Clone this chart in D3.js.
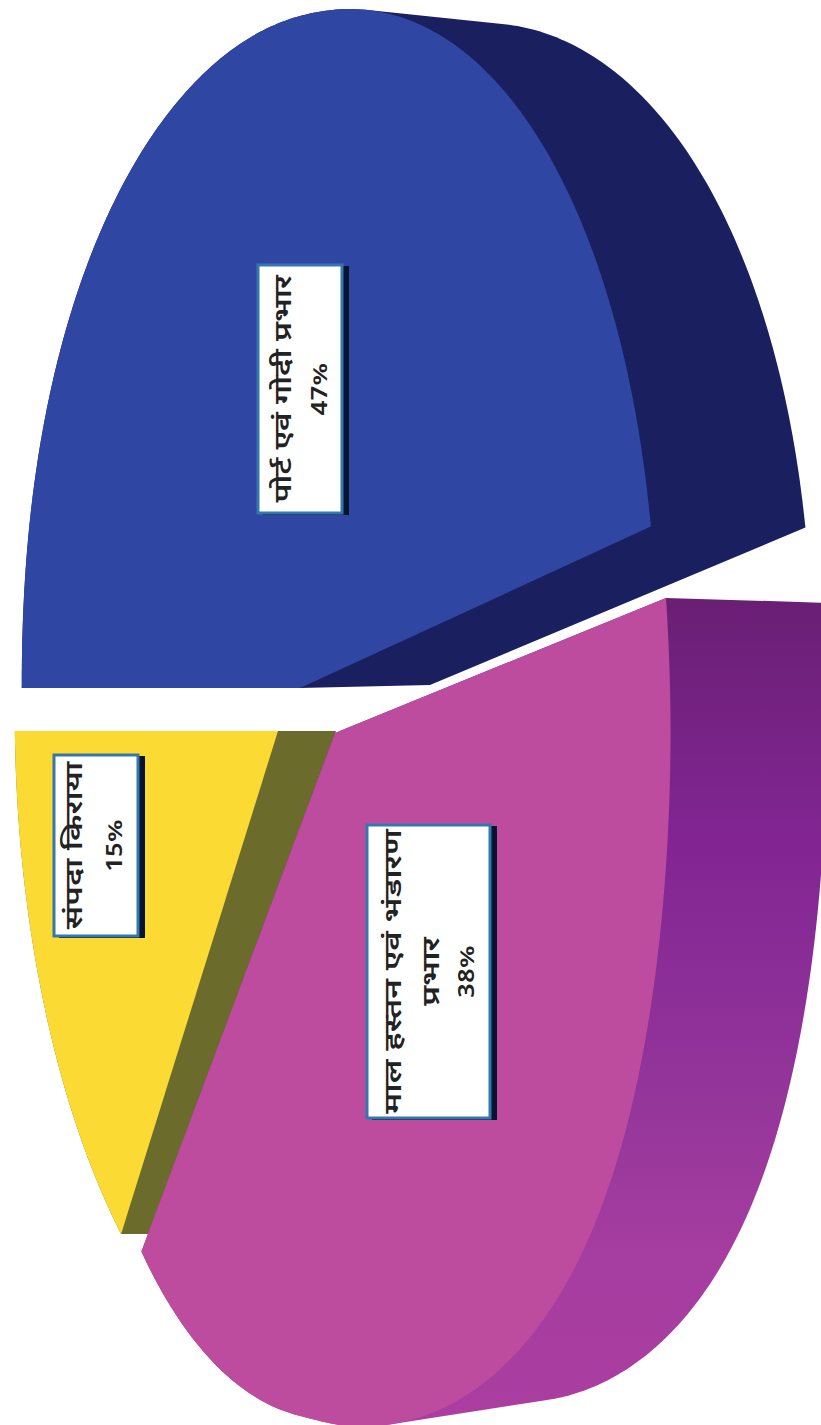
<!DOCTYPE html>
<html><head><meta charset="utf-8">
<script src="https://cdnjs.cloudflare.com/ajax/libs/d3/7.8.5/d3.min.js"></script>
<style>html,body{margin:0;padding:0;background:#fff}svg{display:block}</style>
</head><body><svg id="c" width="821" height="1425"></svg>
<script>
const categories = [["पोर्ट एवं गोदी प्रभार"], ["माल हस्तन एवं भंडारण", "प्रभार"], ["संपदा किराया"]];
const values = [47, 38, 15];

// Rendering geometry: one perspective projection per exploded slice
const views = [
  {apex:[300,688], A:313, B:672, k:.125, s:0,    q:0,   eu:.95, ev:.93, dx:130, dy:-3, sy:.975, sx:1.07, top:"#2f47a3", wall:"#1a1f60"},
  {apex:[335,733], A:302, B:683, k:.1,   s:-.05, q:-20, eu:.7,  ev:1.03, dx:156, dy:0,  sy:.965, sx:1,    top:"#bd4c9f", wall:"url(#pinkWall)"},
  {apex:[278,731], A:300, B:673, k:.14,  s:.012, q:0,   eu:1,   ev:1,   dx:58,  dy:0,  sy:1,    sx:1,    top:"#fbdb33", wall:"#6b6b2c"}
];
const labelBoxes = [
  {x:258,y:265,w:84,h:248,lines:[285,322],stretch:1.33},
  {x:367,y:825,w:123,h:293,lines:[395,433,469],stretch:1.39},
  {x:54,y:755,w:84,h:181,lines:[76,117],stretch:1.37}
];
const drawOrder = [0,2,1];

const svg = d3.select("#c");
const grad = svg.append("defs").append("linearGradient").attr("id","pinkWall")
  .attr("gradientUnits","userSpaceOnUse").attr("x1",0).attr("x2",0).attr("y1",595).attr("y2",1420);
[[0,"#691f74"],[.3,"#822593"],[.6,"#93359a"],[.8,"#a63da0"],[1,"#ab3ea0"]].forEach(d=>grad.append("stop").attr("offset",d[0]).attr("stop-color",d[1]));

const arcs = d3.pie().sort(null).startAngle(-Math.PI/2).endAngle(1.5*Math.PI)(values);
const pw = (a,e)=>Math.sign(a)*Math.pow(Math.abs(a),e);
function ring(v,t){
  const sn=Math.sin(t);
  const u=pw(sn,sn>0?v.eu:1), w=pw(-Math.cos(t),v.ev), d=1-v.k*u;
  const y=v.B*w/d;
  const bow=(y>0&&u>0)?v.q*Math.min(1,u/.25)*Math.pow(y/v.B,6):0;
  return [v.A*u/d+v.s*y*(1-Math.max(u,0))+bow, y];
}
const place=(v,p)=>[v.apex[0]+p[0], v.apex[1]+p[1]];
const under=(v,p)=>[v.apex[0]+v.dx+p[0]*v.sx, v.apex[1]+v.dy+p[1]*v.sy];
const line=d3.line().curve(d3.curveLinear);

drawOrder.forEach(i=>{
  const a=arcs[i], v=views[i];
  const ts=d3.range(0,241).map(j=>a.startAngle+(a.endAngle-a.startAngle)*j/240);
  const rel=ts.map(t=>ring(v,t));
  const upper=rel.map(p=>place(v,p));
  const lower=rel.map(p=>under(v,p));
  const hull=d3.polygonHull(upper.concat(lower,[place(v,[0,0]),under(v,[0,0])]));
  svg.append("path").attr("d",line(hull)+"Z").attr("fill",v.wall);
  svg.append("path").attr("d",line([place(v,[0,0])].concat(upper))+"Z").attr("fill",v.top);
});

categories.forEach((c,i)=>{
  const b=labelBoxes[i], g=svg.append("g");
  g.append("rect").attr("x",b.x+5).attr("y",b.y+1).attr("width",b.w+2).attr("height",b.h+1).attr("fill","#06142f");
  g.append("rect").attr("x",b.x).attr("y",b.y).attr("width",b.w).attr("height",b.h).attr("fill","#fff").attr("stroke","#3278ae").attr("stroke-width",3);
  const cy=b.y+b.h/2;
  c.concat([values[i]+"%"]).forEach((t,j)=>{
    const isPct=j===c.length;
    g.append("text").attr("transform",`translate(${b.lines[j]},${cy}) rotate(-90) scale(${isPct?1.25:b.stretch},1)`)
      .attr("text-anchor","middle").attr("dominant-baseline","central")
      .attr("font-family","'Noto Sans Devanagari','Noto Sans','Lohit Devanagari','Open Sans',sans-serif")
      .attr("font-weight",600)
      .attr("font-size",isPct?21:24).attr("fill","#222").text(t);
  });
});
</script></body></html>
